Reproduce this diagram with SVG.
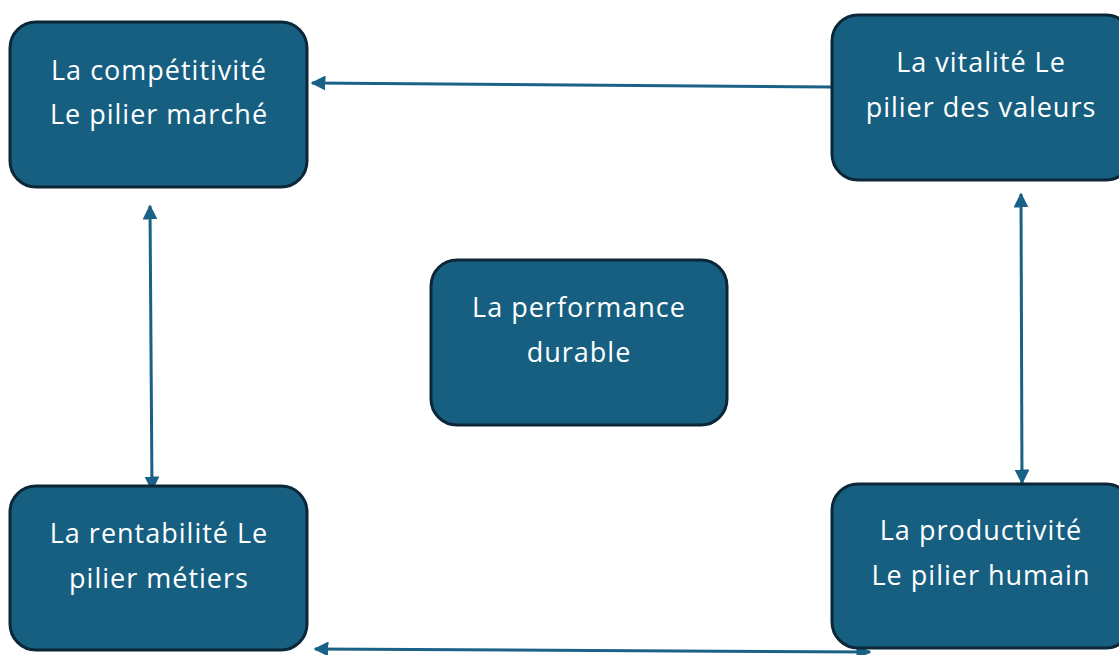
<svg xmlns="http://www.w3.org/2000/svg" width="1119" height="655" viewBox="0 0 1119 655">
<style>
.box{fill:#175f81;stroke:#0c2738;stroke-width:3}
.t{font-family:"Open Sans","Liberation Sans",sans-serif;font-size:27px;letter-spacing:1px;fill:#ffffff;text-anchor:middle}
.c{stroke:#1a6186;stroke-width:3;fill:none}
</style>
<defs>
<marker id="ah" viewBox="0 0 10 10" refX="9" refY="5" markerWidth="5" markerHeight="5" orient="auto-start-reverse" markerUnits="strokeWidth">
<path d="M0,0 L10,5 L0,10 Z" fill="#1a6186"/>
</marker>
</defs>
<rect width="1119" height="655" fill="#ffffff"/>
<g id="connectors">
<line class="c" x1="831" y1="87" x2="312" y2="83" marker-end="url(#ah)"/>
<line class="c" x1="150" y1="206" x2="152" y2="490" marker-start="url(#ah)" marker-end="url(#ah)"/>
<line class="c" x1="1021" y1="194" x2="1022" y2="483" marker-start="url(#ah)" marker-end="url(#ah)"/>
<line class="c" x1="870" y1="652" x2="315" y2="649" marker-start="url(#ah)" marker-end="url(#ah)"/>
</g>
<g id="n1">
<rect class="box" x="10" y="22" width="297" height="165" rx="26"/>
<text class="t" x="159" y="80">La compétitivité</text>
<text class="t" x="159" y="124">Le pilier marché</text>
</g>
<g id="n2">
<rect class="box" x="832" y="15" width="300" height="165" rx="26"/>
<text class="t" x="981" y="72">La vitalité Le</text>
<text class="t" x="981" y="117">pilier des valeurs</text>
</g>
<g id="n3">
<rect class="box" x="431" y="260" width="296" height="165" rx="26"/>
<text class="t" x="579" y="317">La performance</text>
<text class="t" x="579" y="362">durable</text>
</g>
<g id="n4">
<rect class="box" x="10" y="486" width="297" height="164" rx="26"/>
<text class="t" x="159" y="543">La rentabilité Le</text>
<text class="t" x="159" y="588">pilier métiers</text>
</g>
<g id="n5">
<rect class="box" x="832" y="484" width="300" height="164" rx="26"/>
<text class="t" x="981" y="540">La productivité</text>
<text class="t" x="981" y="585">Le pilier humain</text>
</g>
</svg>
